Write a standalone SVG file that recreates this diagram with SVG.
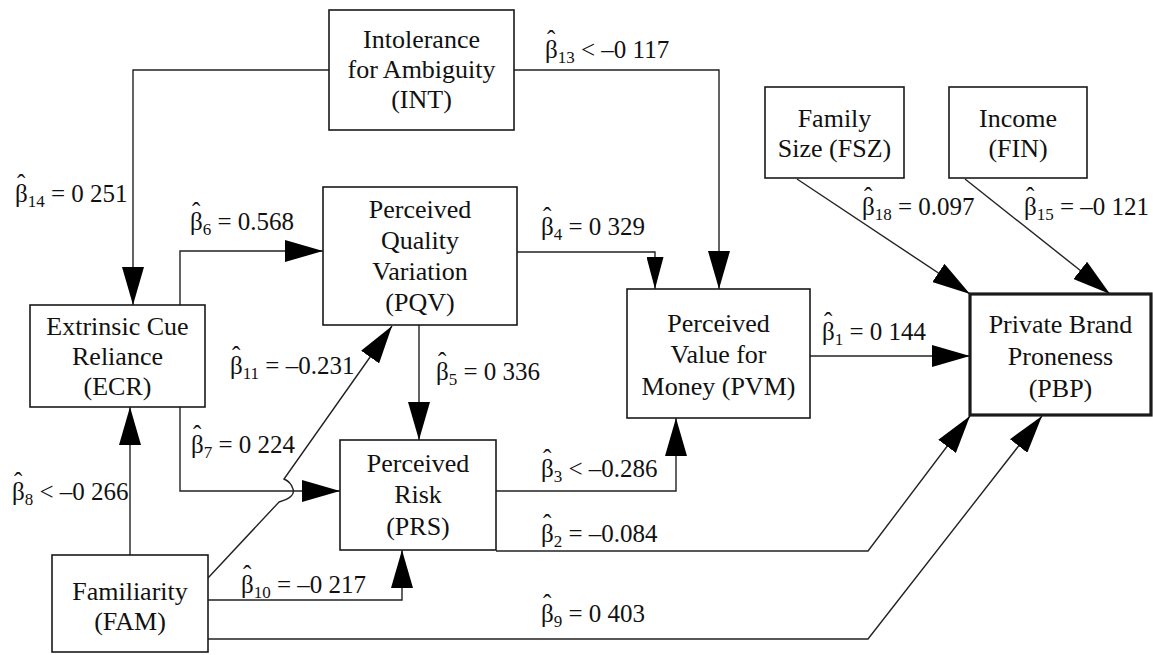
<svg xmlns="http://www.w3.org/2000/svg" width="1153" height="655" viewBox="0 0 1153 655">
<style>
text{font-family:'Liberation Serif','Times New Roman',Times,'Nimbus Roman','Nimbus Roman No9 L',FreeSerif,'DejaVu Serif','Noto Serif',serif}
.box{fill:#fff;stroke:#1a1a1a;stroke-width:1.6}
.thick{stroke-width:3.2}
.nt{font-size:26px;fill:#111;text-anchor:middle}
.lb{font-size:25px;fill:#111}
.sb{font-size:17px}
.c{fill:none;stroke:#222;stroke-width:1.4}
.big{marker-end:url(#ab)}
.sm{marker-end:url(#as)}
</style>
<defs>
<marker id="ab" markerUnits="userSpaceOnUse" markerWidth="38" markerHeight="22" refX="38" refY="11" orient="auto"><path d="M0,0 L38,11 L0,22 z" fill="#000"/></marker>
<marker id="as" markerUnits="userSpaceOnUse" markerWidth="32" markerHeight="17" refX="32" refY="8.5" orient="auto"><path d="M0,0 L32,8.5 L0,17 z" fill="#000"/></marker>
</defs>
<rect width="1153" height="655" fill="#fff"/>
<g id="connectors">
<path class="c big" d="M329,70 H133 V305"/>
<path class="c big" d="M514,70 H719 V289"/>
<path class="c big" d="M180,305 V251 H323"/>
<path class="c big" d="M180,407 V491 H340"/>
<path class="c big" d="M130,555 V407"/>
<path class="c big" d="M208,578 L279,502 Q296,497 293,489 Q291,482 284,479 L392,326"/>
<path class="c big" d="M208,600 H402 V550"/>
<path class="c big" d="M208,639 H868 L1042,416"/>
<path class="c big" d="M419,325 V440"/>
<path class="c sm" d="M517,252 H655 V289"/>
<path class="c big" d="M496,491 H676 V418"/>
<path class="c big" d="M496,551 H868 L970,416"/>
<path class="c big" d="M810,356 H970"/>
<path class="c big" d="M797,179 L970,294"/>
<path class="c big" d="M965,179 L1110,294"/>
</g>
<g id="INT"><rect class="box" x="329" y="10" width="185" height="120"/><text class="nt" x="421.5" y="48">Intolerance</text><text class="nt" x="421.5" y="78">for Ambiguity</text><text class="nt" x="421.5" y="108">(INT)</text></g>
<g id="PQV"><rect class="box" x="323" y="187" width="194" height="138"/><text class="nt" x="420" y="218">Perceived</text><text class="nt" x="420" y="249">Quality</text><text class="nt" x="420" y="280">Variation</text><text class="nt" x="420" y="311">(PQV)</text></g>
<g id="ECR"><rect class="box" x="30" y="305" width="175" height="102"/><text class="nt" x="117.5" y="335">Extrinsic Cue</text><text class="nt" x="117.5" y="365">Reliance</text><text class="nt" x="117.5" y="395">(ECR)</text></g>
<g id="PRS"><rect class="box" x="340" y="440" width="156" height="110"/><text class="nt" x="418" y="472">Perceived</text><text class="nt" x="418" y="503">Risk</text><text class="nt" x="418" y="535">(PRS)</text></g>
<g id="FAM"><rect class="box" x="52" y="555" width="156" height="97"/><text class="nt" x="130" y="600">Familiarity</text><text class="nt" x="130" y="630">(FAM)</text></g>
<g id="PVM"><rect class="box" x="627" y="289" width="183" height="129"/><text class="nt" x="718.5" y="332">Perceived</text><text class="nt" x="718.5" y="363">Value for</text><text class="nt" x="718.5" y="395">Money (PVM)</text></g>
<g id="PBP"><rect class="box thick" x="970" y="294" width="181" height="121"/><text class="nt" x="1060.5" y="333">Private Brand</text><text class="nt" x="1060.5" y="365">Proneness</text><text class="nt" x="1060.5" y="397">(PBP)</text></g>
<g id="FSZ"><rect class="box" x="765" y="87" width="139" height="91"/><text class="nt" x="834.5" y="127">Family</text><text class="nt" x="834.5" y="157">Size (FSZ)</text></g>
<g id="FIN"><rect class="box" x="949" y="87" width="138" height="91"/><text class="nt" x="1018" y="127">Income</text><text class="nt" x="1018" y="157">(FIN)</text></g>
<g id="labels">
<text class="lb" x="15" y="202"><tspan x="17" y="192">ˆ</tspan><tspan x="15" y="202">β</tspan><tspan class="sb" dy="5">14</tspan><tspan dy="-5"> = 0 251</tspan></text>
<text class="lb" x="190" y="230"><tspan x="192" y="220">ˆ</tspan><tspan x="190" y="230">β</tspan><tspan class="sb" dy="5">6</tspan><tspan dy="-5"> = 0.568</tspan></text>
<text class="lb" x="545" y="58"><tspan x="547" y="48">ˆ</tspan><tspan x="545" y="58">β</tspan><tspan class="sb" dy="5">13</tspan><tspan dy="-5"> &lt; –0 117</tspan></text>
<text class="lb" x="541" y="235"><tspan x="543" y="225">ˆ</tspan><tspan x="541" y="235">β</tspan><tspan class="sb" dy="5">4</tspan><tspan dy="-5"> = 0 329</tspan></text>
<text class="lb" x="862" y="215"><tspan x="864" y="205">ˆ</tspan><tspan x="862" y="215">β</tspan><tspan class="sb" dy="5">18</tspan><tspan dy="-5"> = 0.097</tspan></text>
<text class="lb" x="1024" y="215"><tspan x="1026" y="205">ˆ</tspan><tspan x="1024" y="215">β</tspan><tspan class="sb" dy="5">15</tspan><tspan dy="-5"> = –0 121</tspan></text>
<text class="lb" x="822" y="340"><tspan x="824" y="330">ˆ</tspan><tspan x="822" y="340">β</tspan><tspan class="sb" dy="5">1</tspan><tspan dy="-5"> = 0 144</tspan></text>
<text class="lb" x="230" y="374"><tspan x="232" y="364">ˆ</tspan><tspan x="230" y="374">β</tspan><tspan class="sb" dy="5">11</tspan><tspan dy="-5"> = –0.231</tspan></text>
<text class="lb" x="436" y="380"><tspan x="438" y="370">ˆ</tspan><tspan x="436" y="380">β</tspan><tspan class="sb" dy="5">5</tspan><tspan dy="-5"> = 0 336</tspan></text>
<text class="lb" x="191" y="453"><tspan x="193" y="443">ˆ</tspan><tspan x="191" y="453">β</tspan><tspan class="sb" dy="5">7</tspan><tspan dy="-5"> = 0 224</tspan></text>
<text class="lb" x="12" y="500"><tspan x="14" y="490">ˆ</tspan><tspan x="12" y="500">β</tspan><tspan class="sb" dy="5">8</tspan><tspan dy="-5"> &lt; –0 266</tspan></text>
<text class="lb" x="541" y="477"><tspan x="543" y="467">ˆ</tspan><tspan x="541" y="477">β</tspan><tspan class="sb" dy="5">3</tspan><tspan dy="-5"> &lt; –0.286</tspan></text>
<text class="lb" x="541" y="542"><tspan x="543" y="532">ˆ</tspan><tspan x="541" y="542">β</tspan><tspan class="sb" dy="5">2</tspan><tspan dy="-5"> = –0.084</tspan></text>
<text class="lb" x="241" y="593"><tspan x="243" y="583">ˆ</tspan><tspan x="241" y="593">β</tspan><tspan class="sb" dy="5">10</tspan><tspan dy="-5"> = –0 217</tspan></text>
<text class="lb" x="541" y="622"><tspan x="543" y="612">ˆ</tspan><tspan x="541" y="622">β</tspan><tspan class="sb" dy="5">9</tspan><tspan dy="-5"> = 0 403</tspan></text>
</g>
</svg>
